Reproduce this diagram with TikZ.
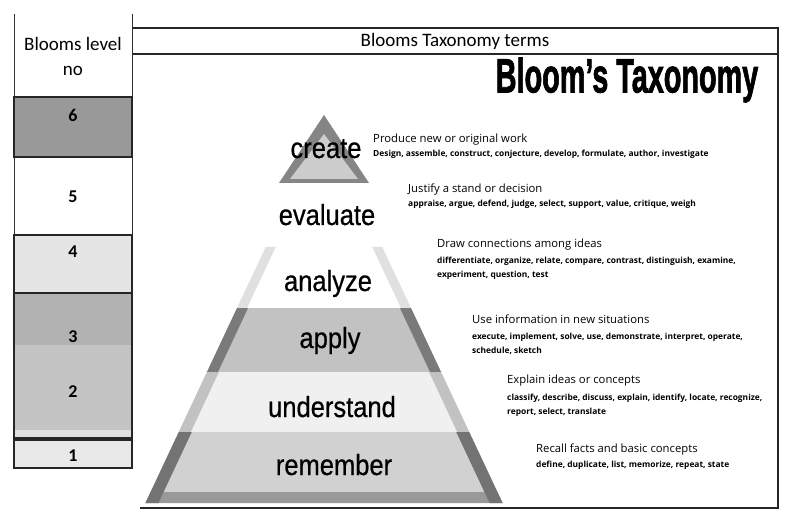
\documentclass[tikz,border=0pt]{standalone}
\usepackage{fontspec}
\setmainfont{Carlito}
\newfontfamily\descfont{Open Sans}
\newfontfamily\lvlfont[FakeBold=0.7]{Liberation Sans}
\newfontfamily\titlefont[BoldFeatures={FakeBold=2}]{Liberation Sans}
\newcommand\pyrband[5]{%
  \pgfmathsetmacro\hwa{0.47*(#1-123)}%
  \pgfmathsetmacro\hwb{0.47*(#2-123)}%
  \fill[#3] ({324-\hwa},#1) -- ({324+\hwa},#1) -- ({324+\hwb},#2) -- ({324-\hwb},#2) -- cycle;
  \fill[#4] ({324-\hwa},#1) -- ({324-\hwa+#5},#1) -- ({324-\hwb+#5},#2) -- ({324-\hwb},#2) -- cycle;
  \fill[#4] ({324+\hwa},#1) -- ({324+\hwa-#5},#1) -- ({324+\hwb-#5},#2) -- ({324+\hwb},#2) -- cycle;
}
\tikzset{
  tline/.style={line width=1.6pt, black!85},
  thin/.style={line width=0.8pt, black!80},
  cellbox/.style={line width=1.6pt, draw=black!85},
  hdr/.style={font=\fontsize{19}{19}\selectfont, inner sep=0},
  num/.style={font=\bfseries\fontsize{18}{18}\selectfont, inner sep=0},
  lvl/.style={font=\lvlfont\fontsize{29}{29}\selectfont, xscale=0.88, anchor=base, inner sep=0},
  dhead/.style={font=\descfont\fontsize{11.3}{11.3}\selectfont, anchor=base west, inner sep=0},
  dsmall/.style={font=\descfont\bfseries\fontsize{8.4}{8.4}\selectfont, anchor=base west, inner sep=0},
}
\begin{document}
\begin{tikzpicture}[x=1pt,y=-1pt]
\useasboundingbox (0,0) rectangle (792,521);
\fill[white] (0,0) rectangle (792,521);
% ---- left column ----
\fill[black!40] (14,97) rectangle (132,157);
\fill[black!10] (14,235) rectangle (132,293);
\fill[black!30] (14,293) rectangle (132,345);
\fill[black!23] (14,345) rectangle (132,430);
\fill[black!12] (14,430) rectangle (132,438);
\fill[black!9] (14,440) rectangle (132,468);
\draw[thin] (14,14) -- (14,468);
\draw[thin] (132,14) -- (132,468);
\draw[cellbox] (14,97) rectangle (132,157);
\draw[cellbox] (14,235) rectangle (132,293);
\draw[cellbox] (14,293) rectangle (132,438);
\draw[cellbox] (14,440) rectangle (132,468);
\node[hdr] (h1) at (73,44) {Blooms level};
\node[hdr] (h2) at (73,71) {no};
\node[num] (n6) at (73,115) {6};
\node[num] (n5) at (73,197) {5};
\node[num] (n4) at (73,252) {4};
\node[num] (n3) at (73,337) {3};
\node[num] (n2) at (73,392) {2};
\node[num] (n1) at (73,456) {1};
% ---- right table ----
\draw[tline] (132,28) -- (778,28);
\draw[tline] (132,54) -- (778,54);
\draw[tline] (778,27.2) -- (778,508.8);
\draw[tline] (140,508) -- (778,508);
\node[hdr] (th) at (455,41) {Blooms Taxonomy terms};
\node[font=\titlefont\bfseries\fontsize{48}{48}\selectfont, xscale=0.6, inner sep=0] (title) at (627,80) {Bloom’s Taxonomy};
% ---- pyramid ----
\fill[black!48] (324,115) -- (369,183) -- (279,183) -- cycle;
\fill[black!20] (324,134) -- (358,179) -- (290,179) -- cycle;
\pyrband{247}{308}{white}{black!12}{10}
\pyrband{308}{372}{black!24}{black!52}{11}
\pyrband{372}{432}{black!6}{black!24}{12}
\pyrband{432}{492}{black!18}{black!55}{13}
\pyrband{492}{503}{black!40}{black!55}{13}
\node[lvl] (create) at (326,158) {create};
\node[lvl] (evaluate) at (327,225) {evaluate};
\node[lvl] (analyze) at (328,291) {analyze};
\node[lvl] (apply) at (330,348) {apply};
\node[lvl] (understand) at (332,417) {understand};
\node[lvl] (remember) at (334,475) {remember};
% ---- descriptions ----
\node[dhead] (d6) at (373,143) {Produce new or original work};
\node[dsmall] (s6) at (373,157) {Design, assemble, construct, conjecture, develop, formulate, author, investigate};
\node[dhead] (d5) at (408,193) {Justify a stand or decision};
\node[dsmall] (s5) at (408,207) {appraise, argue, defend, judge, select, support, value, critique, weigh};
\node[dhead] (d4) at (437,248) {Draw connections among ideas};
\node[dsmall] (s4a) at (437,264) {differentiate, organize, relate, compare, contrast, distinguish, examine,};
\node[dsmall] (s4b) at (437,278) {experiment, question, test};
\node[dhead] (d3) at (472,323) {Use information in new situations};
\node[dsmall] (s3a) at (472,339) {execute, implement, solve, use, demonstrate, interpret, operate,};
\node[dsmall] (s3b) at (472,353) {schedule, sketch};
\node[dhead] (d2) at (507,383) {Explain ideas or concepts};
\node[dsmall] (s2a) at (507,400) {classify, describe, discuss, explain, identify, locate, recognize,};
\node[dsmall] (s2b) at (507,414) {report, select, translate};
\node[dhead] (d1) at (536,452) {Recall facts and basic concepts};
\node[dsmall] (s1) at (536,467) {define, duplicate, list, memorize, repeat, state};
\end{tikzpicture}
\end{document}
